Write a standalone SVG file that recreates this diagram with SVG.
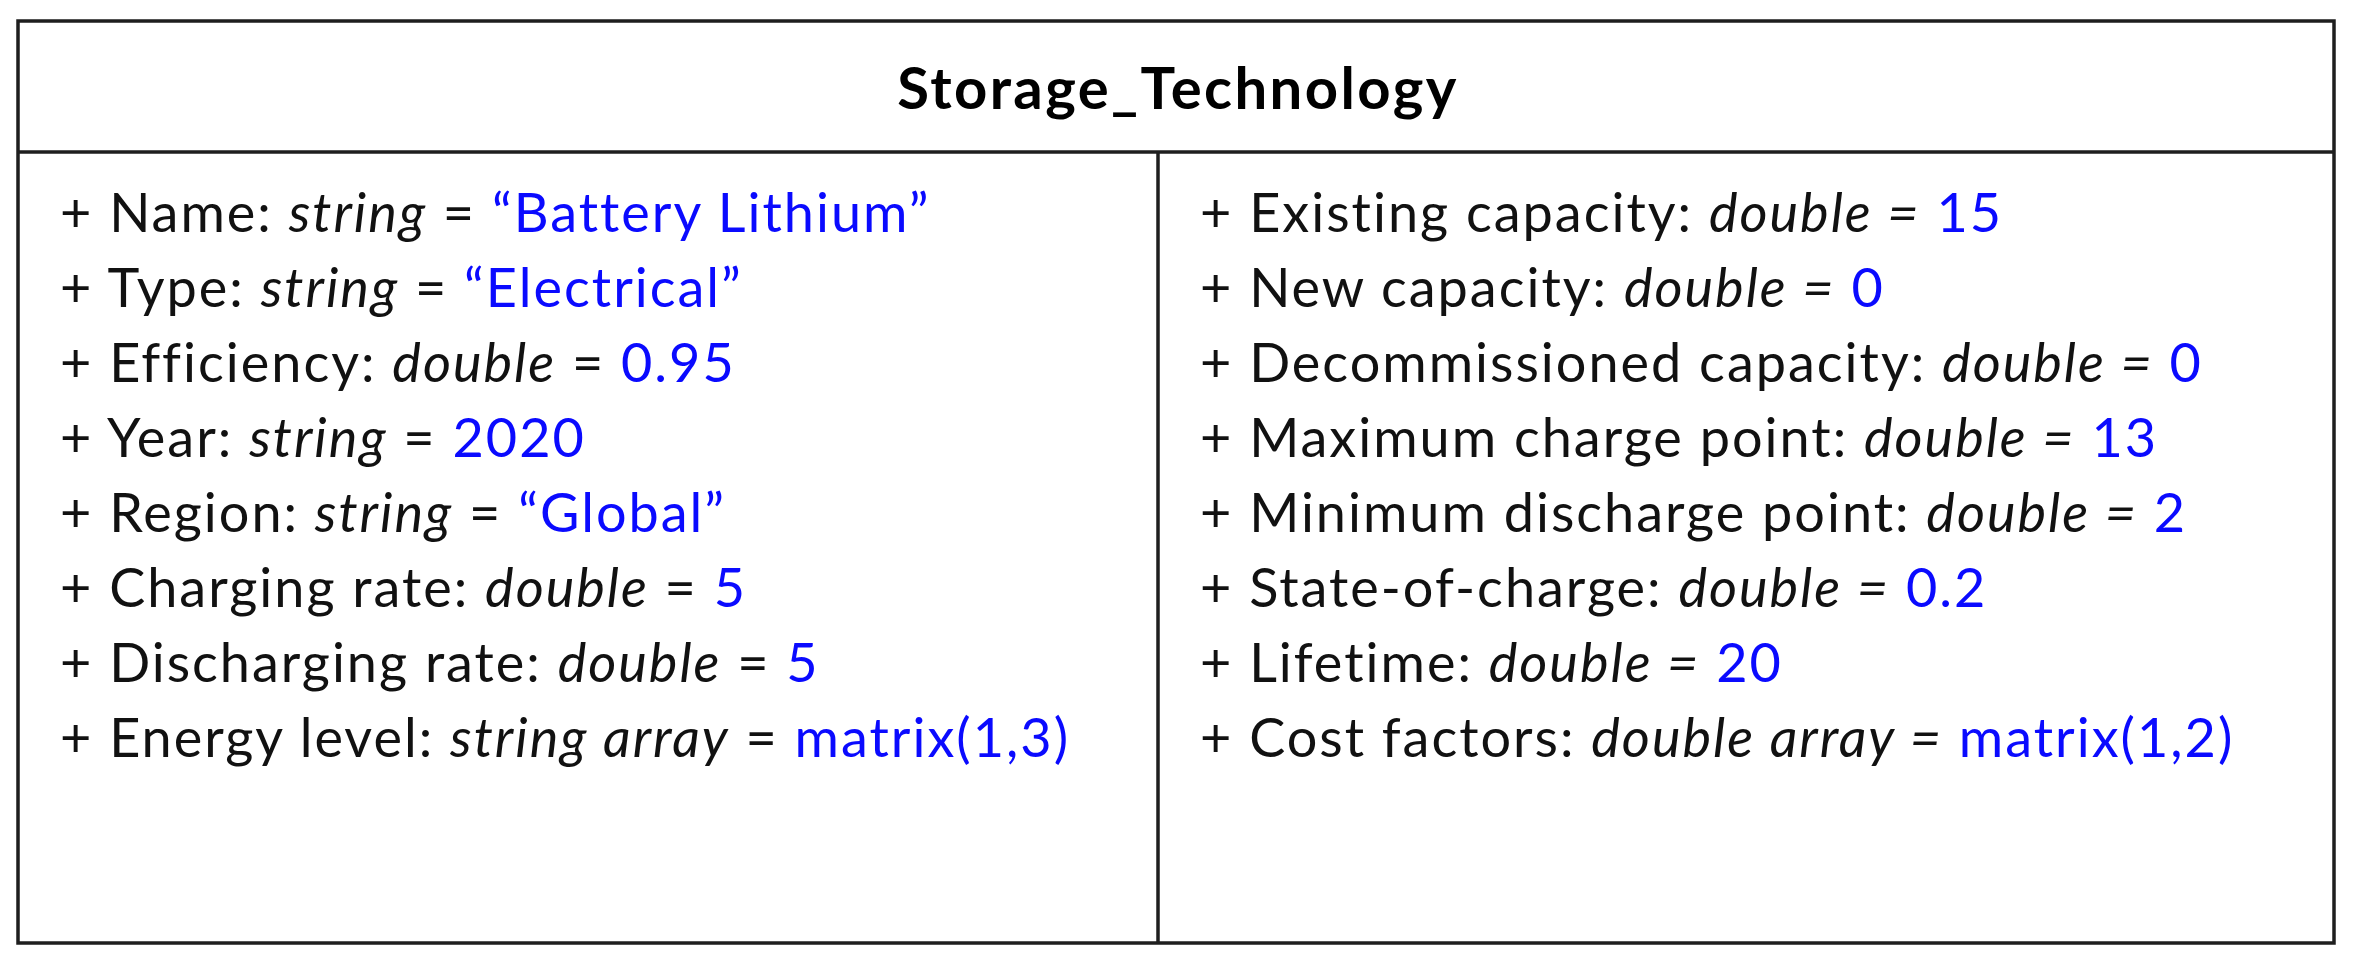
<svg xmlns="http://www.w3.org/2000/svg" width="2360" height="960" viewBox="0 0 2360 960">
<style>
.box{fill:#fff;stroke:#1e1e1e;stroke-width:3.5}
.ln{stroke:#1e1e1e;stroke-width:3.5;fill:none}
.title{font-family:Lato,"Liberation Sans",sans-serif;font-weight:bold;font-size:58px;letter-spacing:2.4px;fill:#000;text-anchor:middle}
.attr{font-family:Lato,"Liberation Sans",sans-serif;font-size:54px;letter-spacing:2px;fill:#111}
.t{font-style:italic}
.v{fill:#0a0aff}
</style>
<rect width="2360" height="960" fill="#fff"/>
<g id="class-storage-technology">
<rect class="box" x="18" y="21" width="2316" height="922"/>
<line class="ln" x1="18" y1="152" x2="2334" y2="152"/>
<line class="ln" x1="1158" y1="152" x2="1158" y2="943"/>
<text class="title" x="1178" y="109">Storage_Technology</text>
<g id="attrs-left" class="attr">
<text x="60" y="232">+ Name: <tspan class="t">string</tspan> = <tspan class="v">“Battery Lithium”</tspan></text>
<text x="60" y="307">+ Type: <tspan class="t">string</tspan> = <tspan class="v">“Electrical”</tspan></text>
<text x="60" y="382">+ Efficiency: <tspan class="t">double</tspan> = <tspan class="v">0.95</tspan></text>
<text x="60" y="457">+ Year: <tspan class="t">string</tspan> = <tspan class="v">2020</tspan></text>
<text x="60" y="532">+ Region: <tspan class="t">string</tspan> = <tspan class="v">“Global”</tspan></text>
<text x="60" y="607">+ Charging rate: <tspan class="t">double</tspan> = <tspan class="v">5</tspan></text>
<text x="60" y="682">+ Discharging rate: <tspan class="t">double</tspan> = <tspan class="v">5</tspan></text>
<text x="60" y="757">+ Energy level: <tspan class="t">string array</tspan> = <tspan class="v">matrix(1,3)</tspan></text>
</g>
<g id="attrs-right" class="attr">
<text x="1200" y="232">+ Existing capacity: <tspan class="t">double =</tspan> <tspan class="v">15</tspan></text>
<text x="1200" y="307">+ New capacity: <tspan class="t">double =</tspan> <tspan class="v">0</tspan></text>
<text x="1200" y="382">+ Decommissioned capacity: <tspan class="t">double =</tspan> <tspan class="v">0</tspan></text>
<text x="1200" y="457">+ Maximum charge point: <tspan class="t">double =</tspan> <tspan class="v">13</tspan></text>
<text x="1200" y="532">+ Minimum discharge point: <tspan class="t">double =</tspan> <tspan class="v">2</tspan></text>
<text x="1200" y="607">+ State-of-charge: <tspan class="t">double =</tspan> <tspan class="v">0.2</tspan></text>
<text x="1200" y="682">+ Lifetime: <tspan class="t">double =</tspan> <tspan class="v">20</tspan></text>
<text x="1200" y="757">+ Cost factors: <tspan class="t">double array =</tspan> <tspan class="v">matrix(1,2)</tspan></text>
</g>
</g>
<g id="connectors"/>
</svg>
